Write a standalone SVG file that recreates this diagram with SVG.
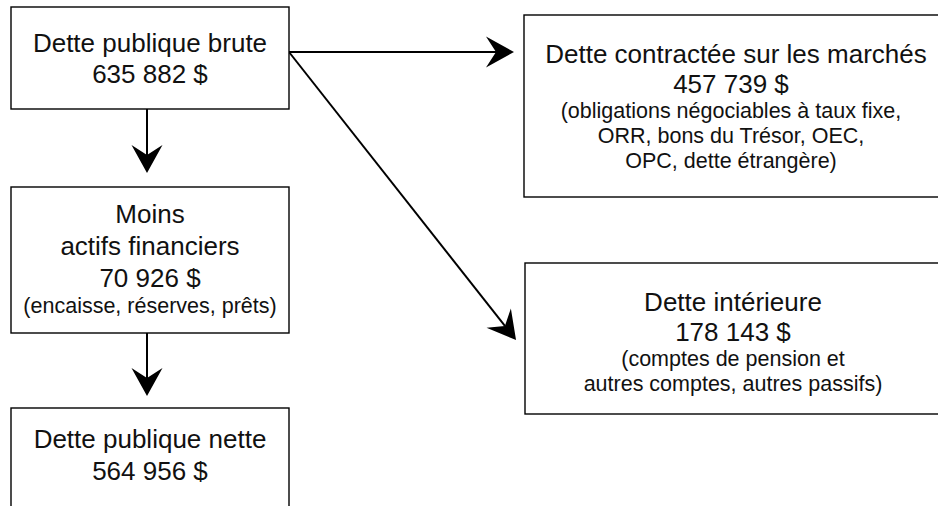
<svg xmlns="http://www.w3.org/2000/svg" width="938" height="506" viewBox="0 0 938 506">
<style>
.box{fill:#fff;stroke:#000;stroke-width:1.4}
text{font-family:"Liberation Sans",Arial,sans-serif;fill:#111;text-anchor:middle}
.big{font-size:26px}
.small{font-size:21.5px}
.conn{stroke:#000;stroke-width:2;fill:none;marker-end:url(#ah)}
</style>
<defs>
<marker id="ah" markerUnits="userSpaceOnUse" viewBox="-11 -16 30 32" markerWidth="30" markerHeight="32" refX="0" refY="0" orient="auto">
<path d="M18,0 L-10,-15.5 L0,0 L-10,15.5 Z" fill="#000"/>
</marker>
</defs>
<rect width="938" height="506" fill="#fff"/>
<g id="connectors">
<line class="conn" x1="147" y1="109" x2="147" y2="155"/>
<line class="conn" x1="147" y1="333" x2="147" y2="378"/>
<line class="conn" x1="289" y1="52" x2="496" y2="52"/>
<line class="conn" x1="289" y1="52" x2="504.9" y2="325.9"/>
</g>
<g id="brute">
<rect class="box" x="11" y="7" width="278" height="102"/>
<text class="big" x="150" y="52">Dette publique brute</text>
<text class="big" x="150" y="83">635 882 $</text>
</g>
<g id="actifs">
<rect class="box" x="11" y="187" width="278" height="146"/>
<text class="big" x="150" y="223">Moins</text>
<text class="big" x="150" y="255">actifs financiers</text>
<text class="big" x="150" y="287">70 926 $</text>
<text class="small" x="150" y="313">(encaisse, réserves, prêts)</text>
</g>
<g id="nette">
<rect class="box" x="11" y="408" width="278" height="130"/>
<text class="big" x="150" y="448">Dette publique nette</text>
<text class="big" x="150" y="480">564 956 $</text>
</g>
<g id="marches">
<rect class="box" x="524" y="15" width="430" height="182"/>
<text class="big" x="736" y="63">Dette contractée sur les marchés</text>
<text class="big" x="731" y="93">457 739 $</text>
<text class="small" x="731" y="118">(obligations négociables à taux fixe,</text>
<text class="small" x="731" y="143">ORR, bons du Trésor, OEC,</text>
<text class="small" x="731" y="168">OPC, dette étrangère)</text>
</g>
<g id="interieure">
<rect class="box" x="525" y="263" width="430" height="151"/>
<text class="big" x="733" y="311">Dette intérieure</text>
<text class="big" x="733" y="341">178 143 $</text>
<text class="small" x="733" y="366">(comptes de pension et</text>
<text class="small" x="733" y="391">autres comptes, autres passifs)</text>
</g>
</svg>
